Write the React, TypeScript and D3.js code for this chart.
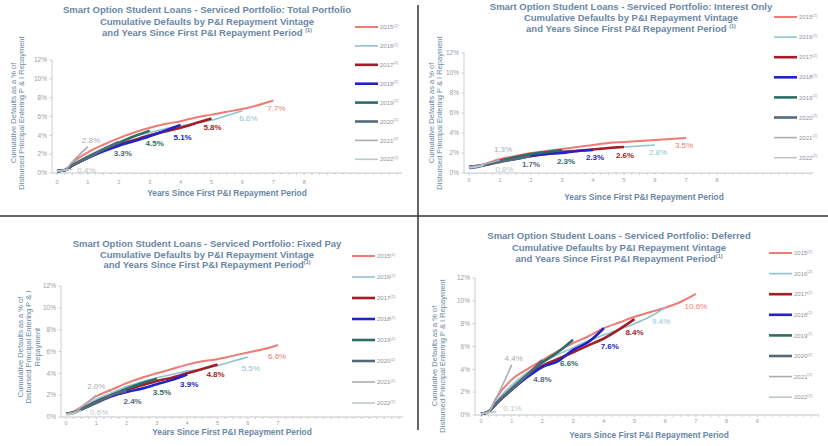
import React from 'react';
import * as d3 from 'd3';

// ---------- data ----------
const YEARS = [0, 0.25, 0.5, 1, 1.5, 2, 2.5, 3, 3.5, 4, 4.5, 5, 5.5, 6, 6.5, 7];
const VINTAGES = ['2015', '2016', '2017', '2018', '2019', '2020', '2021', '2022'];
const Y_TICKS = [0, 2, 4, 6, 8, 10, 12];

// cumulative default % by vintage (one row per vintage, sampled at YEARS)
const TOTAL = [
  [0.2, 0.3, 1.1, 2.2, 3.0, 3.7, 4.3, 4.8, 5.2, 5.5, 5.9, 6.2, 6.5, 6.8, 7.2, 7.7],
  [0.2, 0.3, 0.9, 1.8, 2.6, 3.3, 3.9, 4.3, 4.7, 5.0, 5.3, 5.6, 6.1, 6.6],
  [0.2, 0.3, 0.8, 1.6, 2.4, 3.0, 3.5, 4.0, 4.4, 4.8, 5.3, 5.8],
  [0.2, 0.3, 0.8, 1.6, 2.3, 2.9, 3.4, 3.9, 4.5, 5.1],
  [0.2, 0.3, 0.8, 1.7, 2.5, 3.2, 3.9, 4.5],
  [0.2, 0.3, 0.8, 1.6, 2.5, 3.3],
  [0.2, 0.3, 1.2, 2.8],
  [0.2, 0.3, 0.4],
];
const TOTAL_LABELS = ['7.7%', '6.6%', '5.8%', '5.1%', '4.5%', '3.3%', '2.8%', '0.4%'];

const INTEREST_ONLY = [
  [0.6, 0.7, 0.9, 1.4, 1.7, 2.0, 2.2, 2.4, 2.6, 2.8, 3.0, 3.1, 3.2, 3.3, 3.4, 3.5],
  [0.6, 0.7, 0.8, 1.2, 1.5, 1.8, 2.0, 2.2, 2.3, 2.4, 2.5, 2.6, 2.7, 2.8],
  [0.6, 0.7, 0.8, 1.2, 1.5, 1.7, 1.9, 2.1, 2.2, 2.35, 2.5, 2.6],
  [0.5, 0.6, 0.8, 1.2, 1.4, 1.7, 1.9, 2.0, 2.2, 2.3],
  [0.6, 0.7, 0.8, 1.2, 1.6, 1.9, 2.1, 2.3],
  [0.6, 0.7, 0.8, 1.1, 1.4, 1.7],
  [0.6, 0.7, 0.9, 1.3],
  [0.5, 0.6, 0.8],
];
const INTEREST_ONLY_LABELS = ['3.5%', '2.8%', '2.6%', '2.3%', '2.3%', '1.7%', '1.3%', '0.8%'];

const FIXED_PAY = [
  [0.3, 0.5, 0.9, 1.9, 2.5, 3.1, 3.6, 4.0, 4.4, 4.8, 5.1, 5.3, 5.6, 5.9, 6.2, 6.6],
  [0.3, 0.4, 0.8, 1.6, 2.2, 2.8, 3.2, 3.6, 3.9, 4.2, 4.4, 4.7, 5.1, 5.5],
  [0.3, 0.4, 0.7, 1.4, 2.0, 2.5, 2.9, 3.3, 3.6, 4.0, 4.4, 4.8],
  [0.3, 0.4, 0.7, 1.3, 1.9, 2.3, 2.6, 3.0, 3.4, 3.9],
  [0.3, 0.4, 0.7, 1.4, 2.0, 2.6, 3.1, 3.5],
  [0.3, 0.4, 0.7, 1.3, 2.0, 2.4],
  [0.3, 0.4, 0.9, 2.0],
  [0.2, 0.3, 0.6],
];
const FIXED_PAY_LABELS = ['6.6%', '5.5%', '4.8%', '3.9%', '3.5%', '2.4%', '2.0%', '0.6%'];

const DEFERRED = [
  [0.1, 0.3, 1.5, 3.1, 4.0, 4.8, 5.6, 6.3, 6.9, 7.6, 8.1, 8.6, 9.0, 9.4, 9.9, 10.6],
  [0.1, 0.3, 1.2, 2.6, 3.7, 4.6, 5.3, 5.9, 6.5, 7.0, 7.5, 8.0, 8.6, 9.4],
  [0.1, 0.3, 1.0, 2.3, 3.4, 4.3, 4.9, 5.5, 6.1, 6.7, 7.5, 8.4],
  [0.1, 0.3, 1.0, 2.2, 3.3, 4.2, 4.7, 5.7, 6.4, 7.6],
  [0.1, 0.3, 1.0, 2.3, 3.5, 4.6, 5.5, 6.6],
  [0.1, 0.3, 1.0, 2.2, 3.5, 4.8],
  [0.1, 0.3, 1.5, 4.4],
  [0.1, 0.2, 0.3],
];
const DEFERRED_LABELS = ['10.6%', '9.4%', '8.4%', '7.6%', '6.6%', '4.8%', '4.4%', '0.1%'];

// ---------- styles ----------
const COLORS = ['#f07a74', '#8fc3cf', '#a31d24', '#2323c8', '#2c6e66', '#56687a', '#a9adb3', '#bcc8c4'];
const WIDTHS = [2, 1.6, 2.6, 2.6, 2.6, 2.6, 1.6, 1.6];
const LABEL_BOLD = [false, false, true, true, true, true, false, false];
const TITLE_COLOR = '#6a87a6';
const FONT = '"Liberation Sans", Arial, sans-serif';

const PANELS = [
  {
    title: 'Smart Option Student Loans - Serviced Portfolio: Total Portfolio',
    supSpace: true,
    series: TOTAL, labels: TOTAL_LABELS,
    titleX: 207, titleY: [13, 24.5, 35.5],
    x0: 57, pxYear: 30.9, yBottom: 173, yTop: 60, axisX: 52, axisEnd: 402, maxTick: 8,
    tickLabelY: 184, xTitleX: 227, xTitleY: 196,
    yTitle: ['Cumulative Defaults as a % of', 'Disbursed Principal  Entering P & I Repayment'],
    yTitleX: [13, 21], yTitleY: 113,
    legX: 355, legY: 27, legStep: 18.9,
    offs: [[3, 8], [6, 7], [1, 9], [2, 12], [5, 13], [4, 11], [3, -6], [14, 1]],
  },
  {
    title: 'Smart Option Student Loans - Serviced Portfolio: Interest Only',
    supSpace: true,
    series: INTEREST_ONLY, labels: INTEREST_ONLY_LABELS,
    titleX: 631, titleY: [9.5, 20.5, 31.5],
    x0: 469, pxYear: 31, yBottom: 173, yTop: 53, axisX: 464, axisEnd: 813, maxTick: 8,
    tickLabelY: 182, xTitleX: 644, xTitleY: 200,
    yTitle: ['Cumulative Defaults as a % of', 'Disbursed Principal  Entering P & I Repayment'],
    yTitleX: [431, 439], yTitleY: 113,
    legX: 774, legY: 17, legStep: 20.1,
    offs: [[-2, 7], [3, 7], [1, 8], [2, 7], [4, 11], [0, 8], [3, -11], [20, 4]],
  },
  {
    title: 'Smart Option Student Loans - Serviced Portfolio: Fixed Pay',
    supSpace: false,
    series: FIXED_PAY, labels: FIXED_PAY_LABELS,
    titleX: 207, titleY: [246.5, 257.5, 267.5],
    x0: 66, pxYear: 30.3, yBottom: 417, yTop: 286, axisX: 61, axisEnd: 403, maxTick: 7,
    tickLabelY: 425, xTitleX: 232, xTitleY: 435,
    yTitle: ['Cumulative Defaults as a % of', 'Disbursed Principal Entering P & I', 'Repayment'],
    yTitleX: [20, 28, 37], yTitleY: 347,
    legX: 352, legY: 256, legStep: 21,
    offs: [[-1, 11], [3, 11], [-2, 10], [2, 10], [5, 13], [6, 10], [0, -9], [18, 2]],
  },
  {
    title: 'Smart Option Student Loans - Serviced Portfolio: Deferred',
    supSpace: false,
    series: DEFERRED, labels: DEFERRED_LABELS,
    titleX: 619, titleY: [238.5, 250.5, 261.5],
    x0: 481, pxYear: 30.7, yBottom: 415, yTop: 278, axisX: 475, axisEnd: 819, maxTick: 9,
    tickLabelY: 423, xTitleX: 649, xTitleY: 438,
    yTitle: ['Cumulative Defaults as a % of', 'Disbursed Principal  Entering P & I Repayment'],
    yTitleX: [434, 442], yTitleY: 356,
    legX: 769, legY: 253, legStep: 20.6,
    offs: [[0, 12], [-4, 14], [0, 13], [6, 18], [-4, 24], [0, 19], [2, -7], [16, -3]],
  },
];

function Panel({ p }: { p: any }) {
  const x = d3.scaleLinear().domain([0, 1]).range([p.x0, p.x0 + p.pxYear]);
  const y = d3.scaleLinear().domain([0, 12]).range([p.yBottom, p.yTop]);
  const line = d3
    .line<number>()
    .x((_, i) => x(YEARS[i]))
    .y((v) => y(v))
    .curve(d3.curveMonotoneX);
  const xMax = x.invert(p.axisEnd);
  const minor = d3.range(0, xMax, 0.25);
  const majors = d3.range(0, p.maxTick + 1);
  return (
    <g>
      {/* title */}
      <text x={p.titleX} y={p.titleY[0]} textAnchor="middle" fontSize={9.5} fontWeight="bold" fill={TITLE_COLOR}>
        {p.title}
      </text>
      <text x={p.titleX} y={p.titleY[1]} textAnchor="middle" fontSize={9.5} fontWeight="bold" fill={TITLE_COLOR}>
        Cumulative Defaults by P&amp;I Repayment Vintage
      </text>
      <text x={p.titleX} y={p.titleY[2]} textAnchor="middle" fontSize={9.5} fontWeight="bold" fill={TITLE_COLOR}>
        {'and Years Since First P&I Repayment Period' + (p.supSpace ? ' ' : '')}
        <tspan fontSize={5.5} dy={-3.5}>(1)</tspan>
      </text>
      {/* y axis */}
      <line x1={p.axisX} x2={p.axisX} y1={y(0)} y2={y(12)} stroke="#c9cdd2" strokeWidth={1} />
      {Y_TICKS.map((t) => (
        <g key={t}>
          <line x1={p.axisX - 2.5} x2={p.axisX} y1={y(t)} y2={y(t)} stroke="#c9cdd2" />
          <text x={p.axisX - 5} y={y(t)} dy="0.35em" textAnchor="end" fontSize={6.5} fill="#9a9ea4">
            {t + '%'}
          </text>
        </g>
      ))}
      {/* x axis */}
      <line x1={p.axisX} x2={p.axisEnd} y1={y(0)} y2={y(0)} stroke="#c2c7cd" strokeWidth={1} />
      {minor.map((t) => (
        <line key={t} x1={x(t)} x2={x(t)} y1={y(0)} y2={y(0) + 2} stroke="#c2c7cd" strokeWidth={0.8} />
      ))}
      {majors.map((t) => (
        <text key={t} x={x(t)} y={p.tickLabelY} textAnchor="middle" fontSize={5.5} fill="#9a9ea4">
          {t}
        </text>
      ))}
      <text x={p.xTitleX} y={p.xTitleY} textAnchor="middle" fontSize={8.4} fontWeight="bold" fill={TITLE_COLOR}>
        Years Since First P&amp;I Repayment Period
      </text>
      {/* y title */}
      {p.yTitle.map((s: string, i: number) => (
        <text
          key={i}
          transform={`translate(${p.yTitleX[i]},${p.yTitleY}) rotate(-90)`}
          textAnchor="middle"
          dy="0.35em"
          fontSize={7.5}
          fill={TITLE_COLOR}
        >
          {s}
        </text>
      ))}
      {/* series */}
      {p.series.map((vals: number[], i: number) => (
        <path key={i} d={line(vals) || ''} fill="none" stroke={COLORS[i]} strokeWidth={WIDTHS[i]} strokeLinejoin="round" />
      ))}
      {/* end labels */}
      {p.series.map((vals: number[], i: number) => {
        const n = vals.length - 1;
        return (
          <text
            key={i}
            x={x(YEARS[n]) + p.offs[i][0]}
            y={y(vals[n]) + p.offs[i][1]}
            dy="0.35em"
            textAnchor="middle"
            fontSize={8}
            fontWeight={LABEL_BOLD[i] ? 'bold' : 'normal'}
            fill={COLORS[i]}
          >
            {p.labels[i]}
          </text>
        );
      })}
      {/* legend */}
      {VINTAGES.map((v, i) => {
        const ly = p.legY + i * p.legStep;
        return (
          <g key={v}>
            <line x1={p.legX} x2={p.legX + 23} y1={ly} y2={ly} stroke={COLORS[i]} strokeWidth={WIDTHS[i]} />
            <text x={p.legX + 25} y={ly} dy="0.35em" fontSize={6} fill="#8f949a">
              {v}
              <tspan fontSize={4} dy={-2.5}>(2)</tspan>
            </text>
          </g>
        );
      })}
    </g>
  );
}

export default function App() {
  return (
    <svg
      width={828}
      height={446}
      style={{ position: 'absolute', left: 0, top: 0, background: '#fff' }}
      fontFamily={FONT}
    >
      <rect width={828} height={446} fill="#fff" />
      {PANELS.map((p, i) => (
        <Panel key={i} p={p} />
      ))}
      <line x1={418} x2={418} y1={5} y2={430} stroke="#333" strokeWidth={1.5} />
      <line x1={0} x2={828} y1={216} y2={216} stroke="#333" strokeWidth={1.5} />
    </svg>
  );
}
